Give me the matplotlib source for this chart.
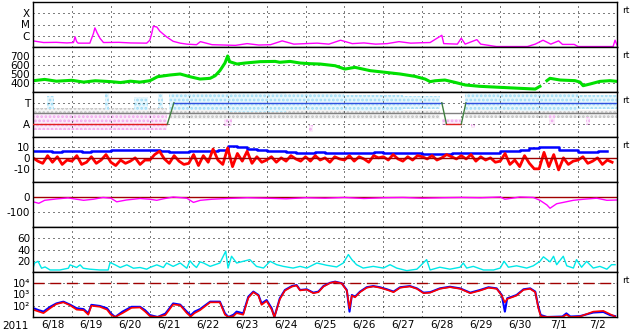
#!/usr/bin/env python3
# space weather overview, 2011-06-18 .. 2011-07-03
import numpy as np
import matplotlib
matplotlib.use("Agg")
import matplotlib.pyplot as plt

nan = np.nan

# time axis in days since 2011-06-18 00:00
day_labels = ["6/18", "6/19", "6/20", "6/21", "6/22", "6/23", "6/24", "6/25",
              "6/26", "6/27", "6/28", "6/29", "6/30", "7/1", "7/2"]

# GOES x-ray flux (W/m2)
xray_t = [0.0, 0.27, 0.6, 0.87, 1.04, 1.08, 1.12, 1.16, 1.46, 1.55, 1.59, 1.62,
          1.64, 1.72, 1.81, 2.2, 2.5, 2.92, 3.0, 3.05, 3.09, 3.18, 3.26, 3.43,
          3.6, 3.78, 3.95, 4.2, 4.3, 4.6, 4.9, 5.2, 5.5, 5.8, 6.1, 6.4, 6.7,
          7.0, 7.3, 7.6, 7.9, 8.2, 8.5, 8.8, 9.1, 9.4, 9.7, 10.0, 10.2, 10.5,
          10.55, 10.9, 11.0, 11.1, 11.4, 11.5, 11.9, 12.3, 12.7, 12.9, 13.1,
          13.3, 13.5, 13.6, 13.9, 14.0, 14.5, 14.9, 14.95, 15.0]
xray_f = [3.5e-7, 2.5e-7, 2.6e-7, 2.3e-7, 2.5e-7, 8e-7, 3e-7, 2.2e-7, 2.2e-7,
          1.5e-6, 5e-6, 3e-6, 2e-6, 6e-7, 2.5e-7, 2.6e-7, 2.3e-7, 2.2e-7,
          4e-7, 1.6e-6, 7e-6, 6e-6, 2.5e-6, 8e-7, 3.2e-7, 2.2e-7, 1.8e-7,
          1.6e-7, 3e-7, 1.6e-7, 1.5e-7, 1.4e-7, 2e-7, 1.5e-7, 1.6e-7, 3.5e-7,
          1.8e-7, 2e-7, 2.2e-7, 1.8e-7, 4e-7, 2e-7, 2.3e-7, 1.8e-7, 2e-7,
          3e-7, 2.2e-7, 2.4e-7, 2.5e-7, 1.1e-6, 2e-7, 1.8e-7, 6e-7, 1.8e-7,
          4.5e-7, 1.8e-7, 1.1e-7, 1.1e-7, 1.1e-7, 1.8e-7, 4e-7, 1.8e-7,
          3.5e-7, 1.7e-7, 1.7e-7, 1.1e-7, 1.1e-7, 1.1e-7, 4e-7, 1.5e-7]

# ACE solar wind speed (km/s)
sw_t = [0.0, 0.3, 0.6, 1.0, 1.3, 1.6, 2.0, 2.25, 2.5, 2.75, 3.0, 3.2, 3.52,
        3.78, 4.03, 4.29, 4.55, 4.68, 4.8, 4.93, 5.0, 5.05, 5.24, 5.45, 5.83,
        6.22, 6.34, 6.6, 6.86, 7.1, 7.37, 7.76, 8.01, 8.27, 8.66, 9.04, 9.43,
        9.81, 10.07, 10.2, 10.33, 10.58, 10.84, 11.1, 11.48, 11.99, 12.5,
        12.9, 13.02, 13.1, 13.2, 13.28, 13.54, 13.92, 14.05, 14.13, 14.31,
        14.56, 14.82, 15.0]
sw_v = [425, 440, 420, 430, 410, 425, 415, 405, 420, 410, 425, 470, 489, 500,
        470, 444, 452, 481, 537, 622, 700, 637, 611, 622, 637, 640, 630, 640,
        622, 615, 611, 592, 555, 574, 537, 519, 500, 474, 444, 415, 425, 433,
        407, 378, 363, 352, 341, 333, 363, nan, 426, 452, 433, 426, 410, 370,
        389, 418, 426, 418]

# IMF sector: 1 = away, 3 = toward (lines), speckles of the phi angle
sector_t = [0.0, 3.45, 3.62, 10.5, 10.62, 11.0, 11.12, 15.0]
sector_v = [1, 1, 3, 3, 1, 1, 3, 3]
toward_t0 = [0.35, 1.85, 2.6, 3.2, 3.5, 5.0, 6.5, 8.0, 9.5, 11.1, 12.5, 14.0]
toward_t1 = [0.55, 1.95, 2.95, 3.35, 5.0, 6.5, 8.0, 9.5, 10.45, 12.5, 14.0, 15.0]
toward_lo = [2.4, 2.3, 2.3, 2.5, 2.3, 2.1, 2.3, 2.2, 2.4, 2.3, 2.2, 2.4]
toward_hi = [3.6, 3.9, 3.5, 3.8, 3.8, 3.9, 3.8, 3.7, 3.6, 3.9, 3.8, 3.7]
away_t0 = [0.0, 4.9, 7.1, 10.5, 11.25, 13.25, 14.2]
away_t1 = [3.45, 5.1, 7.2, 11.0, 11.35, 13.4, 14.3]
away_lo = [0.45, 0.8, 0.3, 0.9, 0.6, 1.0, 0.9]
away_hi = [1.9, 1.5, 0.9, 1.5, 1.0, 2.0, 1.7]
mixed_t0 = [0.0, 3.5, 11.1]
mixed_t1 = [3.45, 10.45, 15.0]
mixed_lo = [1.2, 1.5, 1.6]
mixed_hi = [2.5, 2.3, 2.3]

# IMF Bt and Bz (nT), Bz 8 samples per day, Bt 4 per day
bz_v = [0, -3, -5, 2, -4, 1, -6, -2,
        -3, 2, -6, -4, 1, -5, -2, 3,
        -4, -7, -2, -5, -3, 0, -6, -2,
        -2, 3, 6, -1, -5, 2, -3, -6,
        -5, 3, -7, 2, -4, 8, -2, -6,
        9, -8, 4, -3, 6, -5, 1, -4,
        -2, 1, -4, 0, -3, 2, -1, -3,
        1, -3, 2, -2, 0, -4, 1, -1,
        -2, 2, -3, 1, -1, -4, 2, 0,
        1, -2, 3, -1, -3, 1, -2, 2,
        1, -1, 2, -2, 0, 3, 1, -1,
        2, -1, 3, -3, 1, -2, 0, -4,
        -3, 4, -6, -2, -8, 2, -5, -10,
        -10, 5, -8, 3, -11, 0, -6, -3,
        -2, 1, -5, -3, 0, -6, -2, -4]
bt_v = [6, 6, 5.5, 6, 6, 5.5, 6, 6.5, 7.5, 7.5, 7, 7, 7, 6.5, 5, 5.5,
        6.5, 6.5, 6.5, 7, 10.5, 10, 8, 7, 6.5, 6, 5, 4, 4.5, 5, 4.5, 4,
        4.5, 4, 4.5, 5, 4.5, 4, 4, 4.5, 3.6, 3.6, 3.6, 4.5, 4.5, 4.5, 4.5,
        4.5, 5.8, 5.8, 7, 8.8, 9.7, 9.7, 7.6, 7.6, 5.2, 5.2, 6.7, 6.7]

# Dst (nT)
dst_t = [0, 0.15, 0.3, 0.6, 0.9, 1.12, 1.3, 1.55, 1.8, 2.0, 2.15, 2.4, 2.75,
         3.0, 3.18, 3.35, 3.6, 3.95, 4.12, 4.3, 4.6, 5.0, 5.5, 6.0, 6.5, 7.0,
         7.5, 8.0, 8.5, 9.0, 9.5, 10.0, 10.5, 11.0, 11.5, 12.0, 12.12, 12.3,
         12.5, 12.85, 13.02, 13.2, 13.28, 13.45, 13.62, 13.88, 14.14, 14.48,
         14.74, 15.0]
dst_v = [-32, -42, -22, -13, -6, -15, -22, -15, -3, -8, -32, -20, -10, -15,
         -22, -12, 0, -8, -36, -22, -15, -10, -5, -8, -12, -5, -8, -3, -10,
         -5, -3, -8, -5, -3, -5, 0, -15, -8, 0, -3, -22, -53, -75, -45, -36,
         -22, -15, -8, -22, -20]

# ap-like geomagnetic index
kp_t = [0.0, 0.04, 0.13, 0.22, 0.31, 0.44, 0.69, 0.91, 0.95, 1.12, 1.21, 1.29,
        1.46, 1.72, 1.93, 1.98, 2.11, 2.24, 2.41, 2.58, 2.75, 2.92, 3.0, 3.18,
        3.35, 3.43, 3.6, 3.78, 3.95, 4.03, 4.12, 4.2, 4.29, 4.38, 4.55, 4.8,
        4.95, 5.01, 5.1, 5.23, 5.4, 5.57, 5.74, 5.92, 6.09, 6.26, 6.43, 6.68,
        6.86, 7.03, 7.29, 7.54, 7.8, 7.97, 8.1, 8.19, 8.31, 8.48, 8.74, 9.0,
        9.17, 9.34, 9.6, 9.86, 9.98, 10.11, 10.2, 10.45, 10.71, 10.97, 11.05,
        11.14, 11.31, 11.57, 11.83, 12.0, 12.1, 12.21, 12.42, 12.68, 12.85,
        13.02, 13.11, 13.28, 13.37, 13.45, 13.62, 13.71, 13.88, 13.96, 14.09,
        14.22, 14.39, 14.56, 14.74, 14.86, 14.95]
kp_v = [6.7, 16, 19, 6.7, 9, 3.6, 3.6, 6.7, 12.7, 8, 12.7, 6.7, 5, 3.6, 3.6,
        17, 12.7, 8, 12.7, 6.7, 8, 5, 8, 12.7, 8, 16, 10, 16, 6.7, 20, 12.7,
        8, 18, 16, 10, 16, 37, 7, 28, 16, 19, 22, 10, 7, 19, 13, 10, 7, 10,
        7, 16, 12, 9, 16, 31, 22, 13, 7, 10, 7, 13, 7, 2.4, 5, 13, 22, 3.6,
        8.5, 5, 8.5, 16, 7, 10, 3.6, 3.6, 7, 19, 8.5, 11, 7, 11, 19, 27, 18,
        28, 13, 28, 11, 7, 22, 8.5, 19, 7, 10, 5, 13, 13]

# GOES >2 MeV electron flux, two satellites
el_t = [0.0, 0.15, 0.27, 0.44, 0.6, 0.78, 0.95, 1.12, 1.3, 1.42, 1.5, 1.72,
        1.9, 2.0, 2.11, 2.3, 2.53, 2.75, 2.88, 3.0, 3.2, 3.4, 3.6, 3.78, 3.95,
        4.05, 4.15, 4.29, 4.55, 4.8, 4.93, 5.02, 5.15, 5.23, 5.4, 5.53, 5.66,
        5.79, 5.87, 6.0, 6.13, 6.2, 6.34, 6.47, 6.65, 6.77, 6.86, 7.03, 7.2,
        7.33, 7.46, 7.63, 7.76, 7.93, 8.06, 8.13, 8.19, 8.27, 8.4, 8.57, 8.74,
        8.91, 9.09, 9.26, 9.43, 9.68, 9.86, 10.03, 10.2, 10.45, 10.71, 10.97,
        11.23, 11.48, 11.7, 11.91, 12.04, 12.12, 12.18, 12.3, 12.42, 12.6,
        12.77, 12.9, 12.98, 13.04, 13.2, 13.6, 13.7, 13.8, 14.05, 14.39,
        14.65, 14.82, 14.95]
el_blue = [63, 40, 30, 80, 160, 230, 125, 60, 50, 21, 120, 95, 60, 21, 10,
           30, 80, 80, 40, 15, 10, 20, 160, 125, 30, 14, 30, 50, 230, 230, 21,
           10, 16, 30, 21, 630, 1800, 900, 160, 320, 60, 10, 460, 2500, 5600,
           6900, 2500, 2900, 1450, 1800, 5600, 11000, 13800, 10000, 2500, 30,
           900, 630, 1800, 4400, 5600, 4400, 2900, 1800, 4400, 5600, 3500,
           1450, 1600, 3500, 4900, 3500, 1450, 2500, 4400, 3500, 900, 30, 460,
           630, 900, 2900, 3500, 1800, 80, 15, 10, 11, 21, 11, 12, 25, 28, 15,
           12]
el_red = [45, 30, 22, 60, 140, 200, 110, 45, 40, 16, 100, 80, 45, 16, 10,
          22, 65, 70, 30, 12, 10, 15, 130, 110, 22, 11, 22, 40, 200, 200, 16,
          10, 12, 22, 16, 500, 1600, 800, 120, 260, 45, 10, 380, 2200, 5000,
          6300, 2300, 2700, 1300, 1600, 5000, 10500, 13000, 9500, 2200, 60,
          800, 560, 1600, 4000, 5200, 4000, 2600, 1600, 4000, 5200, 3200,
          1300, 1450, 3200, 4500, 3200, 1300, 2200, 4000, 3200, 800, 200,
          400, 560, 800, 2600, 3200, 1600, 60, 12, 10, 10, 16, 10, 11, 30, 35,
          18, 11]


def speckle(ax, t0, t1, lo, hi, face, dot):
    # scattered phi-angle points, drawn as dotted hatch blocks
    for a, b, l, h in zip(t0, t1, lo, hi):
        ax.bar(a, h - l, bottom=l, width=b - a, align="edge", facecolor=face,
               hatch="....", edgecolor=dot, linewidth=0, zorder=1)


def main():
    plt.rcParams["font.family"] = ["DejaVu Sans"]
    plt.rcParams["font.size"] = 7.5
    plt.rcParams["axes.unicode_minus"] = False
    plt.rcParams["hatch.linewidth"] = 1.3

    fig = plt.figure(figsize=(6.33, 3.34), dpi=100)
    axes = fig.subplots(7, 1, sharex=True)
    fig.subplots_adjust(left=33 / 633, right=617 / 633, top=1 - 2 / 334,
                        bottom=1 - 317 / 334, hspace=0)

    dots = dict(color="black", linestyle=(0, (1, 4)), linewidth=0.72)
    midnights = np.arange(1, 15)
    noons = np.arange(15) + 0.5

    for ax in axes:
        ax.set_xlim(0, 15)
        ax.set_xticks(midnights)
        ax.set_xticks(noons, minor=True)
        ax.tick_params(which="both", length=0, pad=2)
        ax.tick_params(axis="x", which="major", labelbottom=False)
        ax.grid(axis="x", which="major", **dots)
        ax.grid(axis="y", **dots)
        for s in ax.spines.values():
            s.set_linewidth(1.0)

    bz_t = np.arange(len(bz_v)) / 8.0
    bt_t = np.arange(len(bt_v)) / 4.0

    # 1. x-ray
    ax = axes[0]
    ax.plot(xray_t, xray_f, color="#ff00ff", linewidth=1.0)
    ax.set_yscale("log")
    ax.set_ylim(1e-7, 1e-3)
    ax.set_yticks([1e-6, 1e-5, 1e-4], ["C", "M", "X"])
    ax.minorticks_off()
    ax.set_xticks(noons, minor=True)

    # 2. solar wind speed
    ax = axes[1]
    ax.plot(sw_t, sw_v, color="#00e000", linewidth=2.2)
    ax.set_ylim(300, 800)
    ax.set_yticks([400, 500, 600, 700])

    # 3. IMF sector
    ax = axes[2]
    speckle(ax, mixed_t0, mixed_t1, mixed_lo, mixed_hi, "#f4f4f4", "#c0c0c0")
    speckle(ax, away_t0, away_t1, away_lo, away_hi, "#fcecfb", "#f0a8ee")
    speckle(ax, toward_t0, toward_t1, toward_lo, toward_hi, "#e8f7fd", "#9edcf6")
    ax.axhline(2, color="#808080", linewidth=1.0, zorder=2)
    st = np.array(sector_t)
    sv = np.array(sector_v)
    for i in range(len(st) - 1):
        if sv[i] != sv[i + 1]:
            c = "#408040"
        elif sv[i] == 3:
            c = "#3050e0"
        else:
            c = "#e02020"
        ax.plot(st[i:i + 2], sv[i:i + 2], color=c, linewidth=1.0, zorder=3)
    ax.set_ylim(-0.2, 4.0)
    ax.set_yticks([1, 3], ["A", "T"])

    # 4. Bt / Bz
    ax = axes[3]
    ax.plot(bt_t, bt_v, color="#0000ff", linewidth=1.8, drawstyle="steps-post")
    ax.plot(bz_t, bz_v, color="#ff0000", linewidth=2.0)
    ax.axhline(0, color="#a00000", linewidth=1.0)
    ax.set_ylim(-22, 19)
    ax.set_yticks([-10, 0, 10])

    # 5. Dst
    ax = axes[4]
    ax.axhline(0, color="#a00000", linewidth=1.0)
    ax.plot(dst_t, dst_v, color="#ff00ff", linewidth=1.0)
    ax.set_ylim(-200, 100)
    ax.set_yticks([-100, 0])

    # 6. geomagnetic index
    ax = axes[5]
    ax.plot(kp_t, kp_v, color="#00e8e8", linewidth=1.0)
    ax.set_ylim(0, 80)
    ax.set_yticks([20, 40, 60])

    # 7. electrons
    ax = axes[6]
    ax.axhline(1e4, color="#a00000", linewidth=1.0, dashes=(8, 4))
    ax.plot(el_t, el_blue, color="#0000ff", linewidth=1.5)
    ax.plot(el_t, el_red, color="#ff0000", linewidth=1.2)
    ax.set_yscale("log")
    ax.set_ylim(10, 1e5)
    ax.set_yticks([1e2, 1e3, 1e4], ["10\u00b2", "10\u00b3", "10\u2074"])
    ax.minorticks_off()
    ax.set_xticks(noons, minor=True)
    ax.set_xticklabels(day_labels, minor=True)

    for i in (0, 1, 2, 3, 6):
        axes[i].text(1.008, 0.82, "rt", transform=axes[i].transAxes,
                     fontsize=6.5, va="center", ha="left")
    fig.text(2 / 633, 1 - 326 / 334, "2011", va="center", ha="left")

    fig.savefig("out.png", dpi=100)


if __name__ == "__main__":
    main()
